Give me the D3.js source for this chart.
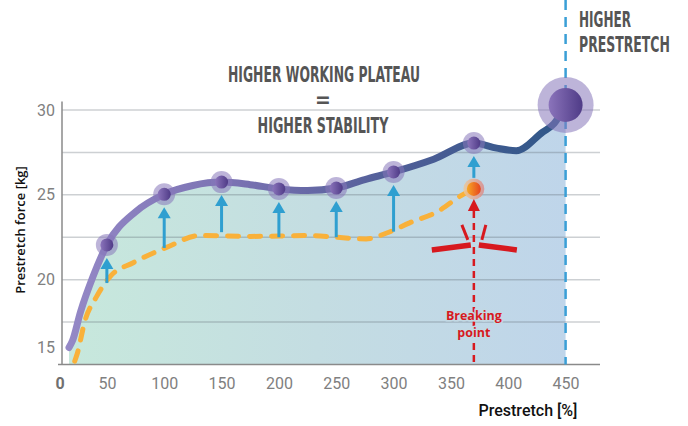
<!DOCTYPE html>
<html>
<head>
<meta charset="utf-8">
<script src="https://cdn.jsdelivr.net/npm/d3@7"></script>
<style>
  body { margin: 0; background: #fff; }
  svg { display: block; }
  .tick text { fill: #808080; font-family: "Liberation Sans Narrow", Roboto, sans-serif; font-size: 16px; }
  .big { font-family: "DejaVu Sans Condensed", "DejaVu Sans", sans-serif; font-weight: bold; fill: #555; font-size: 21px; }
</style>
</head>
<body>
<svg width="688" height="426"></svg>
<script>
// purple curve (higher working plateau)
const purpleX = [17, 20, 27, 38, 50, 75, 100, 125, 150, 175, 200, 225, 250, 275, 300, 335, 370, 390, 407, 430, 440, 450];
const purpleY = [16.0, 16.4, 18.1, 20.2, 22.05, 24.0, 25.03, 25.55, 25.75, 25.6, 25.35, 25.25, 25.4, 25.9, 26.35, 27.1, 28.05, 27.75, 27.6, 28.7, 29.2, 30.3];

// orange dashed curve (standard)
const orangeX = [22, 24, 31, 41, 53, 73, 102, 131, 175, 227, 250, 276, 294, 314, 338, 360, 370];
const orangeY = [15.2, 15.6, 17.6, 19.0, 20.2, 21.0, 21.9, 22.6, 22.55, 22.6, 22.5, 22.4, 22.75, 23.35, 24.0, 25.0, 25.35];

// markers on purple curve + arrow bases
const markerX = [50, 100, 150, 200, 250, 300, 370];
const markerY = [22.05, 25.03, 25.75, 25.35, 25.4, 26.35, 28.05];
const arrowBase = [19.8, 21.87, 22.8, 22.5, 22.5, 22.83, 26.0];

const bigX = 450, bigY = 30.3;
const breakX = 370, breakY = 25.35;

const xTicks = [50, 100, 150, 200, 250, 300, 350, 400, 450];
const yTicks = [15, 20, 25, 30];
const gridY = [17.5, 20, 22.5, 25, 27.5, 30];

const svg = d3.select('svg');
const x = d3.scaleLinear().domain([10, 480]).range([61, 600]);
const y = d3.scaleLinear().domain([15, 30]).range([364.5, 110]);

const defs = svg.append('defs');
function grad(id, stops, x1, x2) {
  const g = defs.append('linearGradient').attr('id', id);
  if (x1 !== undefined) g.attr('gradientUnits', 'userSpaceOnUse').attr('x1', x1).attr('x2', x2).attr('y1', 0).attr('y2', 0);
  stops.forEach((c, i) => g.append('stop').attr('offset', i / (stops.length - 1)).attr('stop-color', c));
}
grad('areaG', ['#c7e8dc', '#c4dde2', '#bfd5ea'], x(17), x(450));
grad('lineG', ['#9488c6', '#7a72b2', '#4f5e97', '#2f5788'], x(17), x(450));
grad('dotG', ['#8b74bb', '#4f3b87']);
grad('orDot', ['#f8a823', '#e5441f']);
grad('orHalo', ['#edc99a', '#d98b8b']);

const purple = purpleX.map((d, i) => [d, purpleY[i]]);
const orange = orangeX.map((d, i) => [d, orangeY[i]]);

// area under purple curve
svg.append('path')
  .datum(purple)
  .attr('fill', 'url(#areaG)')
  .attr('d', d3.area().x(d => x(d[0])).y0(y(15)).y1(d => y(d[1])).curve(d3.curveMonotoneX));

// grid
svg.append('g').selectAll('line').data(gridY).join('line')
  .attr('x1', x(10) + 1).attr('x2', x(480))
  .attr('y1', d => y(d)).attr('y2', d => y(d))
  .attr('stroke', 'rgba(90,100,110,0.3)').attr('stroke-width', 1.5);

// axes
const xa = svg.append('g').attr('transform', `translate(0,${y(15)})`)
  .call(d3.axisBottom(x).tickValues(xTicks).tickSize(0).tickPadding(13));
xa.select('.domain').remove();
xa.append('text').attr('x', x(10) - 1).attr('y', 13).attr('dy', '0.71em')
  .attr('text-anchor', 'middle').attr('fill', '#707070')
  .style('font-family', '"Liberation Sans Narrow", Roboto, sans-serif').style('font-size', '16px').style('font-weight', 'bold')
  .text('0');

const ya = svg.append('g').attr('transform', `translate(${x(10) - 4},0)`)
  .call(d3.axisLeft(y).tickValues(yTicks).tickSize(0).tickPadding(2));
ya.select('.domain').remove();
ya.selectAll('.tick').filter(d => d === 15).select('text').attr('y', -17);

svg.append('line').attr('x1', x(10) + 1).attr('x2', x(10) + 1).attr('y1', y(30.5)).attr('y2', y(15))
  .attr('stroke', '#8a8a8a').attr('stroke-width', 1.5);
svg.append('line').attr('x1', x(10) - 3).attr('x2', x(480)).attr('y1', y(15)).attr('y2', y(15))
  .attr('stroke', '#8a8a8a').attr('stroke-width', 1.5);

// blue dashed vertical at 450
svg.append('line').attr('x1', x(bigX)).attr('x2', x(bigX)).attr('y1', 0).attr('y2', y(15))
  .attr('stroke', '#3a9fd6').attr('stroke-width', 2.5).attr('stroke-dasharray', '10,7');

// orange dashed
svg.append('path').datum(orange)
  .attr('fill', 'none').attr('stroke', '#f9b13a').attr('stroke-width', 5)
  .attr('stroke-linecap', 'round').attr('stroke-dasharray', '11,11')
  .attr('d', d3.line().x(d => x(d[0])).y(d => y(d[1])).curve(d3.curveMonotoneX));

// purple line
svg.append('path').datum(purple)
  .attr('fill', 'none').attr('stroke', 'url(#lineG)').attr('stroke-width', 7)
  .attr('stroke-linecap', 'round')
  .attr('d', d3.line().x(d => x(d[0])).y(d => y(d[1])).curve(d3.curveMonotoneX));

// blue arrows
const arrows = svg.append('g');
markerX.forEach((mx, i) => {
  const cx = x(mx), tip = y(markerY[i]) + 13, base = y(arrowBase[i]);
  arrows.append('line').attr('x1', cx).attr('x2', cx).attr('y1', base).attr('y2', tip + 8)
    .attr('stroke', '#2f9fd0').attr('stroke-width', 3);
  arrows.append('path').attr('d', `M${cx},${tip}L${cx - 6.5},${tip + 11}L${cx + 6.5},${tip + 11}Z`).attr('fill', '#2f9fd0');
});

// markers
const dots = svg.append('g');
markerX.forEach((mx, i) => {
  dots.append('circle').attr('cx', x(mx)).attr('cy', y(markerY[i])).attr('r', 11).attr('fill', 'rgba(135,118,186,0.55)');
  dots.append('circle').attr('cx', x(mx)).attr('cy', y(markerY[i])).attr('r', 6.5).attr('fill', 'url(#dotG)');
});
dots.append('circle').attr('cx', x(bigX)).attr('cy', y(bigY)).attr('r', 28).attr('fill', 'rgba(135,118,186,0.55)');
dots.append('circle').attr('cx', x(bigX)).attr('cy', y(bigY)).attr('r', 17).attr('fill', 'url(#dotG)');

// breaking point
const bx = x(breakX), by = y(breakY);
dots.append('circle').attr('cx', bx).attr('cy', by).attr('r', 10.5).attr('fill', 'url(#orHalo)').attr('opacity', 0.85);
dots.append('circle').attr('cx', bx).attr('cy', by).attr('r', 7).attr('fill', 'url(#orDot)');

const red = '#d7191f';
const tipY = by + 10;
svg.append('line').attr('x1', bx).attr('x2', bx).attr('y1', tipY + 12).attr('y2', y(15))
  .attr('stroke', red).attr('stroke-width', 2.5).attr('stroke-dasharray', '7,5');
svg.append('path').attr('d', `M${bx},${tipY}L${bx - 6},${tipY + 12}L${bx + 6},${tipY + 12}Z`).attr('fill', red);

const cy = y(21.93);
const brk = svg.append('g').attr('stroke', red).attr('fill', 'none');
brk.append('line').attr('x1', bx - 42).attr('y1', cy + 3).attr('x2', bx - 3).attr('y2', cy - 2).attr('stroke-width', 5.5);
brk.append('line').attr('x1', bx + 5).attr('y1', cy - 2).attr('x2', bx + 43).attr('y2', cy + 3).attr('stroke-width', 5.5);
brk.append('line').attr('x1', bx - 12).attr('y1', cy - 22).attr('x2', bx - 6).attr('y2', cy - 7).attr('stroke-width', 3);
brk.append('line').attr('x1', bx + 12).attr('y1', cy - 22).attr('x2', bx + 8).attr('y2', cy - 7).attr('stroke-width', 3);

['Breaking', 'point'].forEach((t, i) => {
  svg.append('text').attr('x', bx).attr('y', 320 + i * 17).attr('text-anchor', 'middle')
    .style('font-family', '"Open Sans", sans-serif').style('font-weight', 'bold').style('font-size', '12.5px')
    .attr('fill', red).attr('stroke', '#c3d9e4').attr('stroke-width', 3).attr('paint-order', 'stroke')
    .text(t);
});

// headings: bold caps squeezed to the width they take in the picture
function heading(t, px, py, w, anchor) {
  const el = svg.append('text').attr('class', 'big').attr('text-anchor', anchor || 'start').text(t);
  const sx = w / el.node().getComputedTextLength();
  el.attr('transform', `translate(${px},${py}) scale(${sx},1)`);
}
heading('HIGHER WORKING PLATEAU', 324, 82, 192, 'middle');
svg.append('text').attr('class', 'big').attr('x', 323).attr('y', 107).attr('text-anchor', 'middle').text('=');
heading('HIGHER STABILITY', 323, 133, 131, 'middle');
heading('HIGHER', 579, 27, 52);
heading('PRESTRETCH', 579, 52, 91);

// axis titles
svg.append('text').attr('transform', 'translate(25,230) rotate(-90)').attr('text-anchor', 'middle')
  .style('font-family', '"Open Sans", sans-serif').style('font-weight', 600).style('font-size', '13px')
  .attr('fill', '#111').text('Prestretch force [kg]');
svg.append('text').attr('x', 528).attr('y', 416).attr('text-anchor', 'middle')
  .style('font-family', 'Roboto, sans-serif').style('font-weight', 500).style('font-size', '16px')
  .attr('fill', '#111').text('Prestretch [%]');
</script>
</body>
</html>
